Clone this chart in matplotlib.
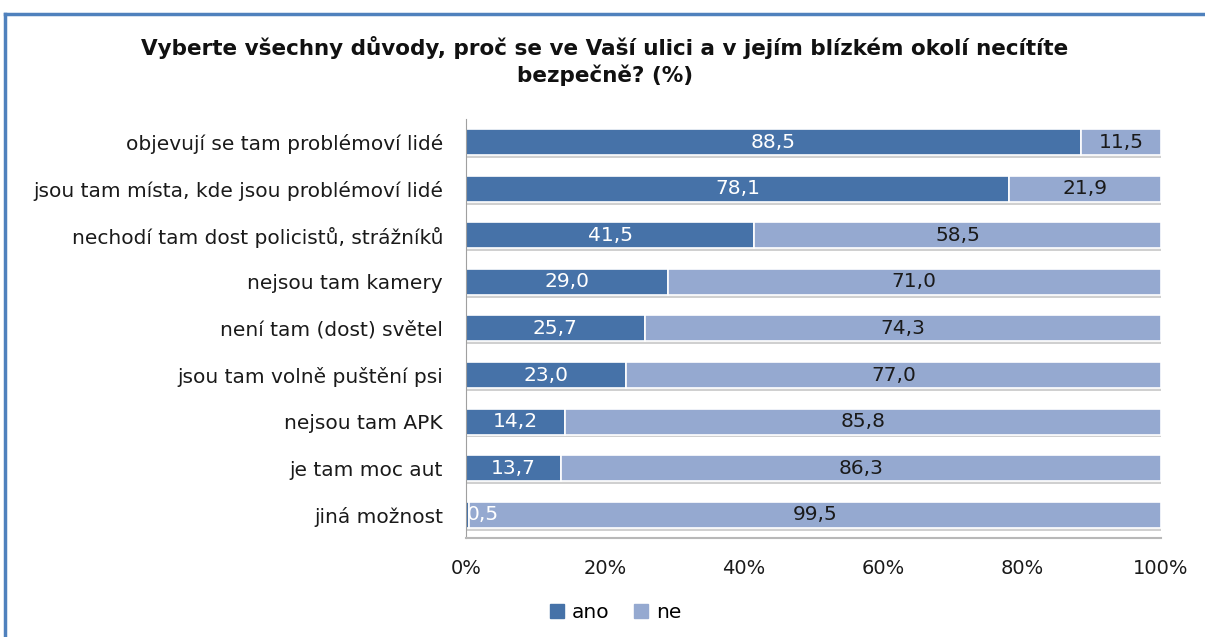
import matplotlib
matplotlib.use("Agg")
import matplotlib.pyplot as plt
from matplotlib.lines import Line2D
from matplotlib.patches import Patch

categories = [
    "objevují se tam problémoví lidé",
    "jsou tam místa, kde jsou problémoví lidé",
    "nechodí tam dost policistů, strážníků",
    "nejsou tam kamery",
    "není tam (dost) světel",
    "jsou tam volně puštění psi",
    "nejsou tam APK",
    "je tam moc aut",
    "jiná možnost",
]
ano = [88.5, 78.1, 41.5, 29.0, 25.7, 23.0, 14.2, 13.7, 0.5]
ne = [11.5, 21.9, 58.5, 71.0, 74.3, 77.0, 85.8, 86.3, 99.5]
xticks = [0, 20, 40, 60, 80, 100]

ANO_COLOR = "#4672A8"
NE_COLOR = "#95A9D0"

fig = plt.figure(figsize=(12.05, 6.37), dpi=100)
ax = fig.add_axes([0.3867, 0.1554, 0.5768, 0.658])

y = list(range(len(categories)))
h = 0.56

# soft shadow under each bar
totals = [a + n for a, n in zip(ano, ne)]
ax.barh([v + 0.06 for v in y], totals, height=h, color="#d0d0d0", zorder=1)

ax.barh(y, ano, height=h, color=ANO_COLOR, edgecolor="white", linewidth=1.2, zorder=2)
ax.barh(y, ne, left=ano, height=h, color=NE_COLOR, edgecolor="white", linewidth=1.2, zorder=2)

lbl_font = dict(fontsize=14.5, family="DejaVu Sans")
for i, (a, n) in enumerate(zip(ano, ne)):
    txt_a = f"{a:.1f}".replace(".", ",")
    txt_n = f"{n:.1f}".replace(".", ",")
    if a < 3:
        ax.text(a / 2 - 0.2, i, txt_a, ha="left", va="center", color="white",
                zorder=3, clip_on=True, **lbl_font)
    else:
        ax.text(a / 2, i, txt_a, ha="center", va="center", color="white", zorder=3, **lbl_font)
    ax.text(a + n / 2, i, txt_n, ha="center", va="center", color="#1a1a1a", zorder=3, **lbl_font)

ax.set_xlim(0, 100)
ax.set_ylim(len(categories) - 0.5, -0.5)
ax.set_yticks(y)
ax.set_yticklabels(categories, fontsize=14.5, color="#1a1a1a")
ax.set_xticks(xticks)
ax.set_xticklabels([f"{t}%" for t in xticks], fontsize=14, color="#1a1a1a")
ax.tick_params(axis="both", length=0)
ax.tick_params(axis="x", pad=15)
ax.tick_params(axis="y", pad=16.5)
for s in ["top", "right"]:
    ax.spines[s].set_visible(False)
ax.spines["left"].set_color("#a0a0a0")
ax.spines["bottom"].set_color("#b8b8b8")
ax.spines["bottom"].set_linewidth(1.5)

fig.text(0.502, 0.904,
         "Vyberte všechny důvody, proč se ve Vaší ulici a v jejím blízkém okolí necítíte\nbezpečně? (%)",
         ha="center", va="center", fontsize=15.5, fontweight="bold",
         family="DejaVu Sans", linespacing=1.35, color="#111111")

handles = [Patch(color=ANO_COLOR), Patch(color=NE_COLOR)]
fig.legend(handles, ["ano", "ne"], loc="center", bbox_to_anchor=(0.511, 0.038), ncol=2,
           frameon=False, fontsize=14.5, handlelength=0.7, handleheight=0.7,
           handletextpad=0.4, columnspacing=1.2)

# blue chart frame (top and left edges visible)
fig.add_artist(Line2D([5 / 1205, 1], [1 - 14 / 637, 1 - 14 / 637], color="#4F81BD", lw=2.5))
fig.add_artist(Line2D([5 / 1205, 5 / 1205], [0, 1 - 14 / 637], color="#4F81BD", lw=2.5))

fig.savefig("out.png", dpi=100)
